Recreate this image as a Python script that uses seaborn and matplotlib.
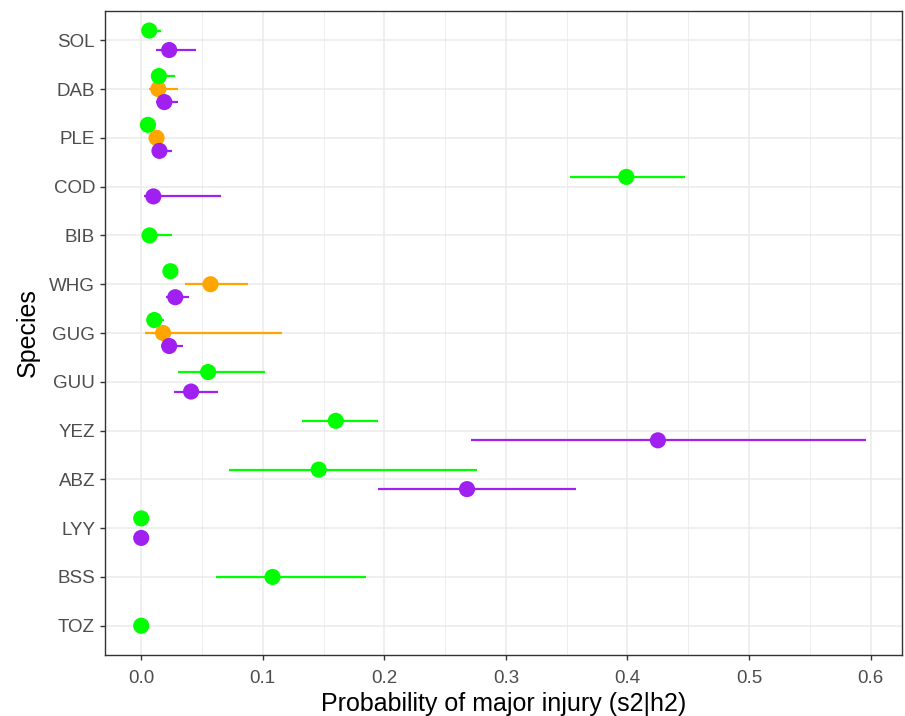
import numpy as np
import pandas as pd
import matplotlib
matplotlib.use("Agg")
import matplotlib.pyplot as plt
import seaborn as sns
from matplotlib.ticker import MultipleLocator

species = ["SOL", "DAB", "PLE", "COD", "BIB", "WHG", "GUG", "GUU", "YEZ", "ABZ", "LYY", "BSS", "TOZ"]
groups = ["Group 1", "Group 2", "Group 3"]
colors = ["#00FF00", "#FFA500", "#A020F0"]

nan = np.nan
g1_est = [0.0066, 0.0145, 0.0055, 0.399, 0.0068, 0.024, 0.0107, 0.055, 0.160, 0.146, 0.0, 0.108, 0.0]
g1_lo = [0.002, 0.008, 0.002, 0.353, 0.002, 0.018, 0.005, 0.030, 0.132, 0.072, 0.0, 0.0616, 0.0]
g1_hi = [0.016, 0.028, 0.008, 0.447, 0.025, 0.030, 0.019, 0.102, 0.195, 0.276, 0.0, 0.185, 0.0]

g2_est = [nan, 0.014, 0.0126, nan, nan, 0.057, 0.018, nan, nan, nan, nan, nan, nan]
g2_lo = [nan, 0.006, 0.006, nan, nan, 0.036, 0.003, nan, nan, nan, nan, nan, nan]
g2_hi = [nan, 0.030, 0.018, nan, nan, 0.088, 0.116, nan, nan, nan, nan, nan, nan]

g3_est = [0.023, 0.019, 0.015, 0.010, nan, 0.028, 0.023, 0.041, 0.425, 0.268, 0.0, nan, nan]
g3_lo = [0.012, 0.012, 0.009, 0.002, nan, 0.020, 0.016, 0.027, 0.271, 0.195, 0.0, nan, nan]
g3_hi = [0.045, 0.030, 0.025, 0.066, nan, 0.039, 0.034, 0.063, 0.596, 0.358, 0.0, nan, nan]

x_ticks = [0.0, 0.1, 0.2, 0.3, 0.4, 0.5, 0.6]
x_ticklabels = ["0.0", "0.1", "0.2", "0.3", "0.4", "0.5", "0.6"]

series = {
    groups[0]: (g1_est, g1_lo, g1_hi),
    groups[1]: (g2_est, g2_lo, g2_hi),
    groups[2]: (g3_est, g3_lo, g3_hi),
}

rows = []
for i, sp in enumerate(species):
    present = [g for g in groups if not np.isnan(series[g][0][i])]
    n = len(present)
    for k, g in enumerate(present):
        off = (k - (n - 1) / 2) * 0.8 / n
        est, lo, hi = series[g]
        rows.append(dict(species=sp, group=g, est=est[i], lo=lo[i], hi=hi[i], ypos=i + off))
df = pd.DataFrame(rows)

sns.set_theme(style="white")
plt.rcParams["font.family"] = ["Liberation Sans", "DejaVu Sans"]

fig = plt.figure(figsize=(9.05, 7.16), dpi=100)
ax = fig.add_axes([105 / 905, 1 - 655 / 716, (902 - 105) / 905, (655 - 11) / 716])

pal = dict(zip(groups, colors))
for g in groups:
    sub = df[df.group == g]
    ax.hlines(sub.ypos, sub.lo, sub.hi, color=pal[g], lw=1.6, zorder=3)

draw_order = [groups[1], groups[0], groups[2]]
df_draw = pd.concat([df[df.group == g] for g in draw_order])
sns.scatterplot(data=df_draw, x="est", y="ypos", hue="group", hue_order=groups,
                palette=pal, s=135, linewidth=0, legend=False, ax=ax, zorder=4)

ax.set_xlim(-0.0298, 0.6258)
ax.set_ylim(len(species) - 1 + 0.6, -0.6)
ax.set_yticks(range(len(species)))
ax.set_yticklabels(species)
ax.xaxis.set_minor_locator(MultipleLocator(0.05))
ax.set_xticks(x_ticks)
ax.set_xticklabels(x_ticklabels)

ax.grid(which="major", color="#EBEBEB", lw=1.1, zorder=0)
ax.grid(which="minor", axis="x", color="#EBEBEB", lw=0.6, zorder=0)
ax.set_axisbelow(True)
for s in ax.spines.values():
    s.set_color("#333333")
    s.set_linewidth(1.0)

ax.tick_params(axis="both", which="major", length=3.6, width=1.0, color="#333333",
               labelcolor="#4D4D4D", labelsize=13.5, left=True, bottom=True)
ax.tick_params(axis="y", which="major", pad=3.6)
ax.tick_params(axis="x", which="major", pad=7.5)
ax.tick_params(axis="both", which="minor", length=0)

ax.set_xlabel("Probability of major injury (s2|h2)", fontsize=18, color="black", labelpad=3.5)
ax.set_ylabel("Species", fontsize=18, color="black", labelpad=7)

fig.savefig("out.png", dpi=100)
